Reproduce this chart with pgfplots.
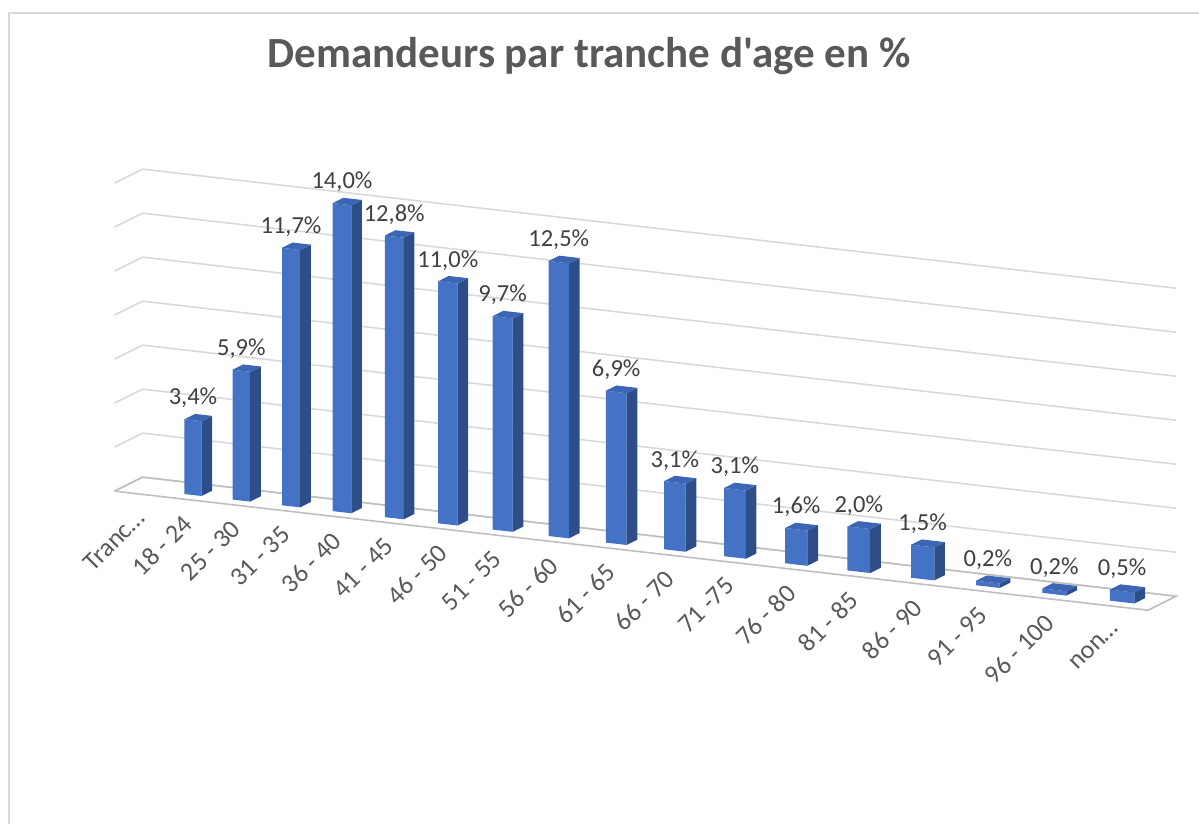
\documentclass[border=0pt]{standalone}
\usepackage{pgfplots}
\usepackage{pgfplotstable}
\pgfplotsset{compat=1.18}
\usepackage{fontspec}
\setmainfont{Carlito}
\newfontfamily\titlefont{Carlito}
\definecolor{barfront}{HTML}{4472C4}
\definecolor{barside}{HTML}{2E4E8A}
\definecolor{bartop}{HTML}{3C66B4}
\definecolor{gridgray}{HTML}{D9D9D9}
\definecolor{floorgray}{HTML}{BFBFBF}
\definecolor{txtgray}{HTML}{595959}
\definecolor{lblgray}{HTML}{404040}

\pgfplotstableread{
x v
1 3.4
2 5.9
3 11.7
4 14.0
5 12.8
6 11.0
7 9.7
8 12.5
9 6.9
10 3.1
11 3.1
12 1.6
13 2.0
14 1.5
15 0.2
16 0.2
17 0.5
}\agedata

\begin{document}
\begin{tikzpicture}
\useasboundingbox (0pt,0pt) rectangle (1199pt,824pt);
\draw[gridgray, line width=2pt] (9pt,-5pt) -- (9pt,811pt) -- (1210pt,811pt);
\node[font=\titlefont\bfseries\fontsize{43}{50}\selectfont, text=txtgray] at (589pt,768pt) {Demandeurs par tranche d'age en \%};
\begin{axis}[
  x={(46.44pt,-5.35pt)}, y={(28pt,14pt)}, z={(0pt,22pt)},
  x coord trafo/.code={\pgfmathparse{#1+0.01391*(#1)*(#1)}},
  anchor=origin, at={(137.5pt,330.2pt)},
  xmin=-0.5, xmax=17.5, ymin=0, ymax=1, zmin=0, zmax=14,
  clip=false,
  axis line style={draw=none},
  tick style={draw=none},
  xtick={0,...,17},
  xticklabels={Tranc…, 18 - 24, 25 - 30, 31 - 35, 36 - 40, 41 - 45, 46 - 50, 51 - 55, 56 - 60, 61 - 65, 66 - 70, 71 -75, 76 - 80, 81 - 85, 86 - 90, 91 - 95, 96 - 100, non…},
  ytick=\empty,
  ztick={0,2,...,14}, zticklabels={},
  zmajorgrids,
  grid style={gridgray, line width=1.6pt},
  xticklabel style={xshift=-3pt, yshift=-11pt, rotate=45, anchor=north east, font=\fontsize{26}{30}\selectfont, text=txtgray, inner sep=2pt},
]
% floor outline
\addplot3[floorgray, line width=1.6pt] coordinates {(-0.5,0,0) (17.5,0,0) (17.5,1,0) (-0.5,1,0) (-0.5,0,0)};
% bars
\pgfplotsinvokeforeach{0,...,16}{
  \pgfplotstablegetelem{#1}{x}\of\agedata
  \pgfmathsetmacro\bx{\pgfplotsretval}
  \pgfplotstablegetelem{#1}{v}\of\agedata
  \pgfmathsetmacro\bv{\pgfplotsretval}
  \pgfmathsetmacro\xl{\bx-0.18}
  \pgfmathsetmacro\xr{\bx+0.18}
  \addplot3[fill=barfront, draw=none] coordinates {(\xl,0.3,0) (\xr,0.3,0) (\xr,0.3,\bv) (\xl,0.3,\bv)};
  \addplot3[fill=barside, draw=none] coordinates {(\xr,0.3,0) (\xr,0.68,0) (\xr,0.68,\bv) (\xr,0.3,\bv)};
  \addplot3[fill=bartop, draw=none] coordinates {(\xl,0.3,\bv) (\xr,0.3,\bv) (\xr,0.68,\bv) (\xl,0.68,\bv)};
}
% data labels
\addplot3[draw=none, mark=none,
  point meta=explicit,
  nodes near coords={\pgfmathprintnumber[fixed,fixed zerofill,precision=1,use comma,assume math mode=true]{\pgfplotspointmeta}\%},
  nodes near coords style={anchor=south, inner sep=0pt, yshift=12pt, font=\fontsize{24.5}{28}\selectfont, text=lblgray},
] table[x=x, y expr=0.3, z=v, meta=v] {\agedata};
\end{axis}
\end{tikzpicture}
\end{document}
